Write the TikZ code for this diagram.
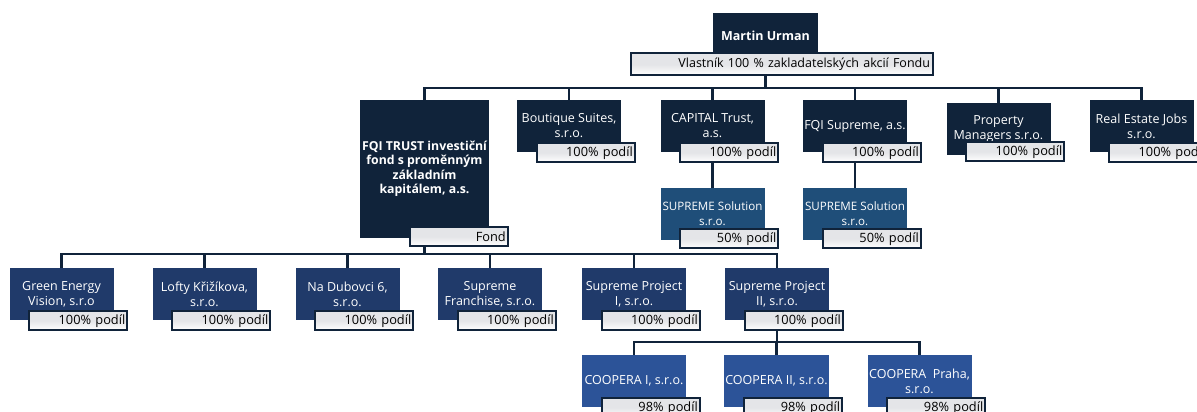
\documentclass[tikz,border=0pt]{standalone}
\usepackage{fontspec}
\setmainfont{Open Sans}
\usetikzlibrary{positioning,calc}
\definecolor{navydark}{HTML}{10233A}
\definecolor{navymid}{HTML}{203A6A}
\definecolor{steel}{HTML}{1F4E79}
\definecolor{cobalt}{HTML}{2C5398}
\definecolor{tagbg}{HTML}{E4E5E8}
\tikzset{
  firm/.style={rectangle,fill=navydark,text=white,minimum width=104pt,minimum height=52pt,
    align=center,inner sep=1pt,font=\fontsize{12.5}{15}\selectfont},
  fund/.style={firm,minimum width=129pt,minimum height=138pt,font=\bfseries\fontsize{12.3}{14.5}\selectfont},
  owner/.style={firm,minimum width=105pt,minimum height=46pt,font=\bfseries\fontsize{12.5}{15}\selectfont},
  sol/.style={firm,fill=steel,font=\fontsize{11.6}{15}\selectfont},
  subfirm/.style={firm,fill=navymid},
  coop/.style={firm,fill=cobalt},
  tag/.style={rectangle,draw=navydark,line width=2pt,top color=tagbg,bottom color=white,
    middle color=tagbg,minimum width=98pt,minimum height=19pt,inner sep=1pt,
    text width=94pt,align=right,font=\fontsize{12.8}{14}\selectfont},
  link/.style={draw=navydark,line width=2.4pt}
}
\begin{document}
\begin{tikzpicture}[x=1pt,y=-1pt]
\useasboundingbox (0,0) rectangle (1197,412);
\clip (0,0) rectangle (1197,412);
% owner
\node[owner] (urman) at (765.5,36) {Martin Urman};
\node[tag,minimum width=302pt,minimum height=22pt,text width=296pt,font=\fontsize{12.5}{14}\selectfont] (urman-l) at (782,64.5)
  {Vlastník 100 \% zakladatelských akcií Fondu};
% first level
\node[fund] (fqi) at (424.5,169) {FQI TRUST investiční\\fond s proměnným\\základním\\kapitálem, a.s.};
\node[firm] (boutique) at (569,126) {Boutique Suites,\\s.r.o.};
\node[firm] (capital) at (712.5,126) {CAPITAL Trust,\\a.s.};
\node[firm] (fqisup) at (855,126) {FQI Supreme, a.s.};
\node[firm] (property) at (998.5,129) {Property\\Managers s.r.o.};
\node[firm] (realestate) at (1141.5,126) {Real Estate Jobs\\s.r.o.};
\node[tag,anchor=north west] (fqi-l) at ([shift={(49pt,12pt)}]fqi.south west) {Fond};
\foreach \n in {boutique,capital,fqisup,realestate}
  \node[tag,anchor=north west] (\n-l) at ([shift={(19pt,10pt)}]\n.south west) {100\% podíl};
\node[tag,anchor=north west] (property-l) at ([shift={(19pt,14pt)}]property.south west) {100\% podíl};
% solutions
\node[sol] (sol1) at (712.5,214) {SUPREME Solution\\s.r.o.};
\node[sol] (sol2) at (855,214) {SUPREME Solution\\s.r.o.};
\foreach \n in {sol1,sol2}
  \node[tag,anchor=north west] (\n-l) at ([shift={(19pt,12pt)}]sol1.south west -| \n.south west) {50\% podíl};
% second level
\node[subfirm] (green) at (61.5,294) {Green Energy\\Vision, s.r.o};
\node[subfirm] (lofty) at (204.5,294) {Lofty Křižíkova,\\s.r.o.};
\node[subfirm] (dubovci) at (347.5,294) {Na Dubovci 6,\\s.r.o.};
\node[subfirm] (franchise) at (490,294) {Supreme\\Franchise, s.r.o.};
\node[subfirm] (project1) at (634,294) {Supreme Project\\I, s.r.o.};
\node[subfirm] (project2) at (777,294) {Supreme Project\\II, s.r.o.};
\foreach \n in {green,lofty,dubovci,franchise,project1,project2}
  \node[tag,anchor=north west] (\n-l) at ([shift={(19pt,10pt)}]\n.south west) {100\% podíl};
% third level
\node[coop] (coop1) at (634,381) {COOPERA I, s.r.o.};
\node[coop] (coop2) at (776.5,381) {COOPERA II, s.r.o.};
\node[coop] (coop3) at (919.5,381) {COOPERA\ \ Praha,\\s.r.o.};
\foreach \n in {coop1,coop2,coop3}
  \node[tag,anchor=north west] (\n-l) at ([shift={(19pt,10pt)}]\n.south west) {98\% podíl};
% connectors
\coordinate (bus1) at (0,88);
\coordinate (bus2) at (0,254);
\coordinate (bus3) at (0,342);
\foreach \n in {fqi,boutique,capital,fqisup,property,realestate}
  \draw[link] (urman-l.south -| urman) -- (urman |- bus1) -| (\n.north);
\draw[link] (capital-l.south -| capital) -- (sol1.north);
\draw[link] (fqisup-l.south -| fqisup) -- (sol2.north);
\foreach \n in {green,lofty,dubovci,franchise,project1,project2}
  \draw[link] (fqi-l.south -| fqi) -- (fqi |- bus2) -| (\n.north);
\foreach \n in {coop1,coop2,coop3}
  \draw[link] (project2-l.south -| project2) -- (project2 |- bus3) -| (\n.north);
\end{tikzpicture}
\end{document}
